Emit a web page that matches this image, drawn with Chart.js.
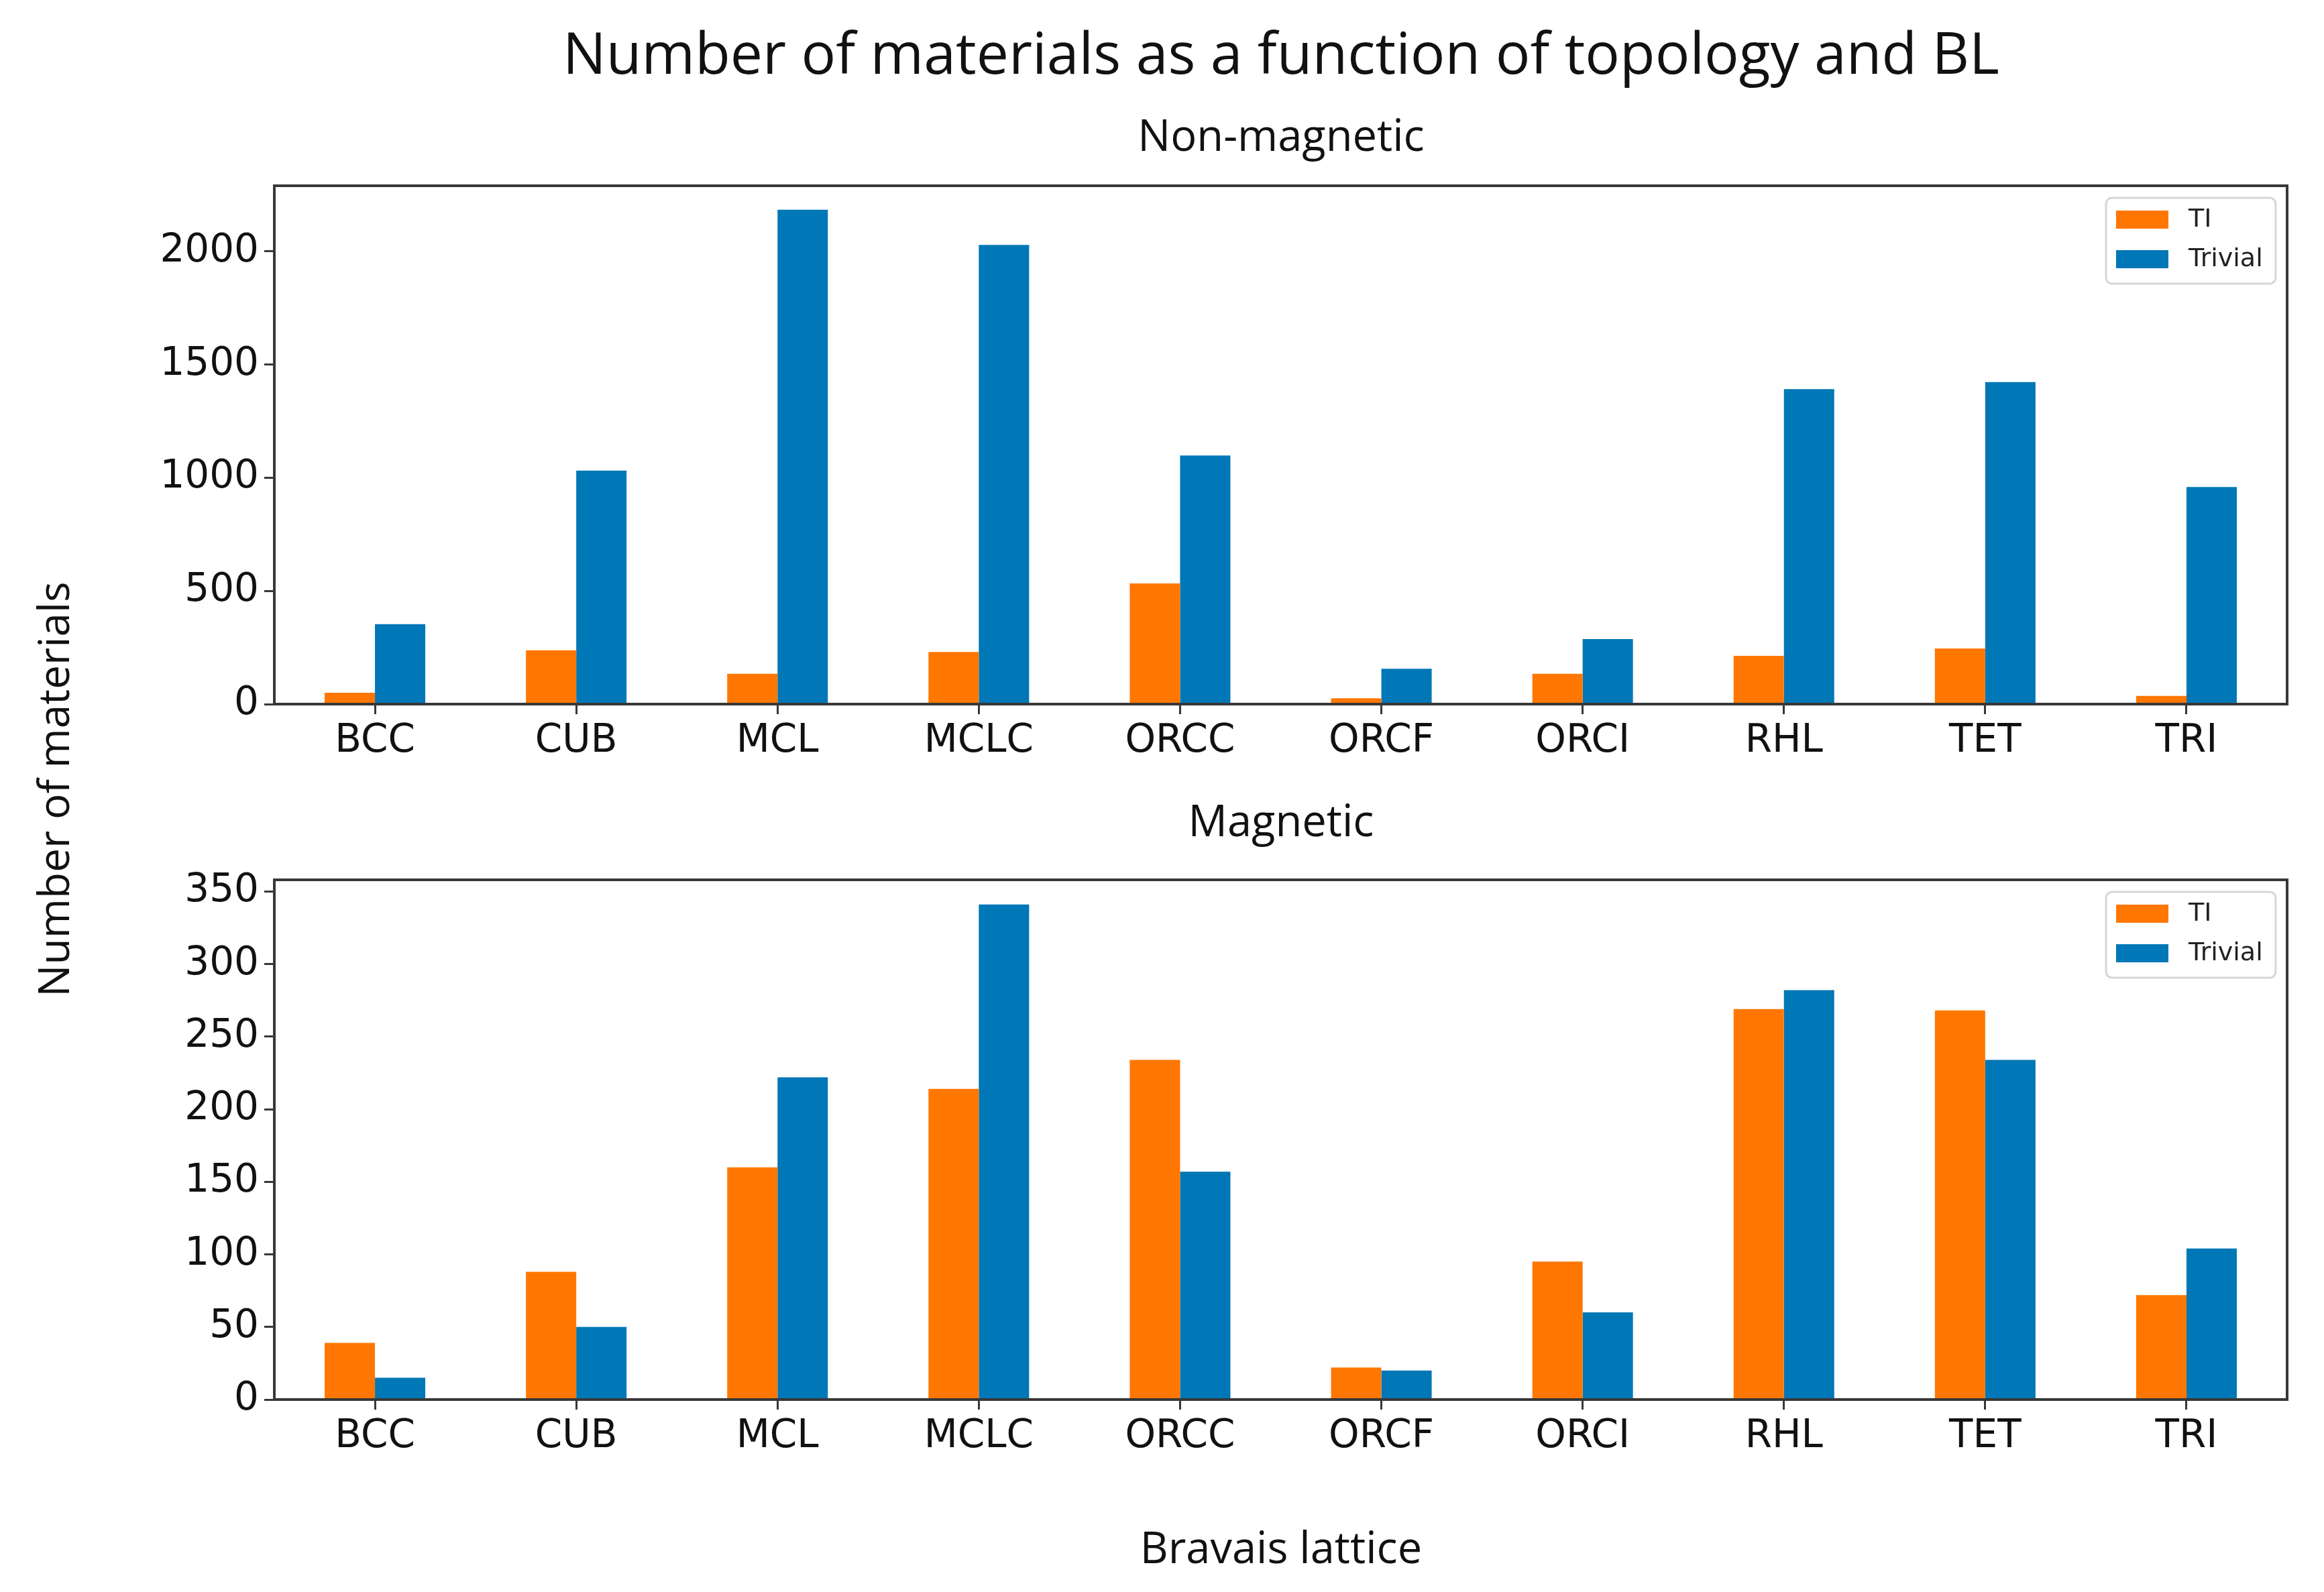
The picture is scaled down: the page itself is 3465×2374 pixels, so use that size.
<!DOCTYPE html>
<html>
<head>
<meta charset="utf-8">
<script src="https://cdn.jsdelivr.net/npm/chart.js@4/dist/chart.umd.min.js"></script>
<style>
  html, body { margin: 0; padding: 0; background: #fff; }
  body { width: 3465px; height: 2374px; position: relative; overflow: hidden; }
  .txt { position: absolute; font-family: "Open Sans", sans-serif; color: #111; white-space: nowrap; }
  canvas { position: absolute; left: 0; }
</style>
</head>
<body>
<div class="txt" style="font-size:86px; left:1910px; top:18px; transform:translateX(-50%);">Number of materials as a function of topology and BL</div>
<div class="txt" style="font-size:65px; left:1910px; top:156px; transform:translateX(-50%);">Non-magnetic</div>
<div class="txt" style="font-size:65px; left:1910px; top:1178px; transform:translateX(-50%);">Magnetic</div>
<div class="txt" style="font-size:65px; left:1910px; top:2262px; transform:translateX(-50%);">Bravais lattice</div>
<div class="txt" style="font-size:64px; left:78px; top:1177px; transform:translate(-50%,-50%) rotate(-90deg);">Number of materials</div>
<canvas id="topChart" width="3465" height="970" style="top:230px"></canvas>
<canvas id="bottomChart" width="3465" height="950" style="top:1250px"></canvas>
<script>
const lattices = ["BCC", "CUB", "MCL", "MCLC", "ORCC", "ORCF", "ORCI", "RHL", "TET", "TRI"];
const seriesNames = ["TI", "Trivial"];
const nonMagTI = [50, 238, 134, 230, 533, 26, 134, 213, 246, 36];
const nonMagTrivial = [353, 1031, 2183, 2028, 1098, 156, 287, 1391, 1422, 959];
const magTI = [39, 88, 160, 214, 234, 22, 95, 269, 268, 72];
const magTrivial = [15, 50, 222, 341, 157, 20, 60, 282, 234, 104];
const nonMagTicks = [0, 500, 1000, 1500, 2000];
const magTicks = [0, 50, 100, 150, 200, 250, 300, 350];

const orange = "#ff7700";
const blue = "#0077b6";
const spine = "#383838";
const tickFont = { family: "DejaVu Sans", size: 58 };

// frame all four sides like matplotlib spines
const chartAreaBorder = {
  id: "chartAreaBorder",
  afterDraw(chart) {
    const { ctx, chartArea: { left, top, width, height } } = chart;
    ctx.save();
    ctx.strokeStyle = spine;
    ctx.lineWidth = 4;
    ctx.strokeRect(left, top, width, height);
    ctx.restore();
  },
};

// boxed legend in the upper right corner of the plot
const cornerLegend = {
  id: "cornerLegend",
  afterDraw(chart) {
    const { ctx, chartArea } = chart;
    const boxW = 253, boxH = 128;
    const x = chartArea.right - 270;
    const y = chartArea.top + 18;
    ctx.save();
    ctx.fillStyle = "rgba(255,255,255,0.8)";
    ctx.strokeStyle = "#d6d6d6";
    ctx.lineWidth = 3;
    ctx.beginPath();
    ctx.roundRect(x, y, boxW, boxH, 9);
    ctx.fill();
    ctx.stroke();
    ctx.font = "38px 'DejaVu Sans'";
    ctx.textBaseline = "middle";
    chart.data.datasets.forEach((ds, i) => {
      const sy = y + 19 + i * 59;
      ctx.fillStyle = ds.backgroundColor;
      ctx.fillRect(x + 15, sy, 78, 27);
      ctx.fillStyle = "#222";
      ctx.fillText(ds.label, x + 123, sy + 14);
    });
    ctx.restore();
  },
};

function makeChart(id, tiValues, trivialValues, yMax, yTicks, pad, xHeight) {
  const data = {
    labels: lattices,
    datasets: [
      { label: seriesNames[0], data: tiValues, backgroundColor: orange },
      { label: seriesNames[1], data: trivialValues, backgroundColor: blue },
    ],
  };
  const config = {
    type: "bar",
    data: data,
    options: {
      responsive: false,
      animation: false,
      devicePixelRatio: 1,
      layout: { padding: pad },
      datasets: { bar: { categoryPercentage: 0.5, barPercentage: 1.0 } },
      plugins: { legend: { display: false }, tooltip: { enabled: false } },
      scales: {
        x: {
          afterFit(scale) { scale.height = xHeight; },
          border: { display: false },
          grid: { offset: false, drawOnChartArea: false, drawTicks: true, tickLength: 15, tickColor: spine, tickWidth: 3 },
          ticks: { color: "#111", font: tickFont, padding: 6, maxRotation: 0 },
        },
        y: {
          min: 0,
          max: yMax,
          afterFit(scale) { scale.width = 409; },
          afterBuildTicks(scale) { scale.ticks = yTicks.map((v) => ({ value: v })); },
          border: { display: false },
          grid: { drawOnChartArea: false, drawTicks: true, tickLength: 15, tickColor: spine, tickWidth: 3 },
          ticks: { color: "#111", font: tickFont, padding: 8, callback: (v) => String(v) },
        },
      },
    },
    plugins: [chartAreaBorder, cornerLegend],
  };
  return new Chart(document.getElementById(id), config);
}

makeChart("topChart", nonMagTI, nonMagTrivial, 2289, nonMagTicks, { left: 0, right: 55, top: 47, bottom: 0 }, 150);
makeChart("bottomChart", magTI, magTrivial, 358, magTicks, { left: 0, right: 55, top: 62, bottom: 0 }, 113);
</script>
</body>
</html>
